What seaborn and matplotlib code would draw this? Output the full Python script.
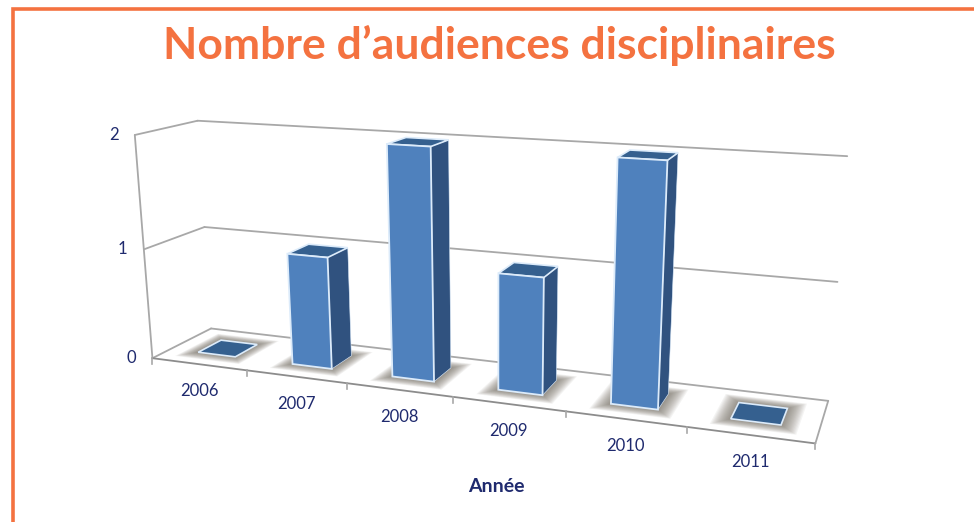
# -*- coding: utf-8 -*-
import numpy as np
import pandas as pd
import matplotlib
matplotlib.use('Agg')
import matplotlib.pyplot as plt
from matplotlib.transforms import Transform
import seaborn as sns

# data
years = ['2006', '2007', '2008', '2009', '2010', '2011']
audiences = [0, 1, 2, 1, 2, 0]
value_ticks = [0, 1, 2]
title = 'Nombre d’audiences disciplinaires'
xlabel = 'Année'

ORANGE = '#F47240'
NAVY = '#1F2A6E'
FRONT = '#4F81BD'
SIDE = '#30527F'
TOP = '#35608F'
GRID = '#A8A8A8'
BAR_WIDTH = 0.4
D0, D1 = 0.3, 0.7

# chart box corners in the picture: (category pos, depth, value) -> pixel, used to fit the camera
box_ref = [(-.5, 0, 0), (-.5, 1, 0), (-.5, 0, 1), (-.5, 1, 1), (-.5, 0, 2), (-.5, 1, 2),
           (5.5, 1, 2), (5.5, 1, 1), (5.5, 1, 0), (5.5, 0, 0),
           (.5, 0, 0), (1.5, 0, 0), (3.5, 0, 0), (4.5, 0, 0)]
box_px = [(152, 357), (212, 329), (144, 249), (203, 227), (135, 135), (198, 121),
          (847, 156), (838, 282), (828, 400), (815, 443),
          (247, 371), (347, 383), (566, 412), (687, 428)]


def fit_camera(ref, px):
    rows, rhs = [], []
    for (x, d, v), (u, w) in zip(ref, px):
        rows.append([x, d, v, 1, 0, 0, 0, 0, -u*x, -u*d, -u*v])
        rhs.append(u)
        rows.append([0, 0, 0, 0, x, d, v, 1, -w*x, -w*d, -w*v])
        rhs.append(w)
    sol = np.linalg.lstsq(np.array(rows, float), np.array(rhs, float), rcond=None)[0]
    return np.append(sol, 1).reshape(3, 4)


CAM = fit_camera(box_ref, box_px)


def project(x, d, v):
    x, d, v = np.broadcast_arrays(np.asarray(x, float), np.asarray(d, float), np.asarray(v, float))
    pts = np.stack([x, d, v, np.ones_like(x)], axis=-1) @ CAM.T
    return pts[..., :2] / pts[..., 2:]


class FrontFace(Transform):
    # takes the bar from seaborn's (category, value) space onto the plane at one depth
    input_dims = 2
    output_dims = 2

    def __init__(self, plane):
        super().__init__()
        self.plane = plane

    def transform_non_affine(self, values):
        values = np.asarray(values, float)
        return project(values[:, 0], self.plane, values[:, 1])


fig = plt.figure(figsize=(9.74, 5.22), dpi=100, facecolor='white')
back = fig.add_axes([0, 0, 1, 1], zorder=1)
back.set_xlim(0, 974)
back.set_ylim(522, 0)
back.axis('off')

df = pd.DataFrame({'year': years, 'audiences': audiences})
ax = fig.add_axes([0, 0, 1, 1], zorder=2)
sns.barplot(data=df, x='year', y='audiences', color=FRONT, saturation=1, width=BAR_WIDTH,
            edgecolor='#DCEBFA', linewidth=1.3, ax=ax)
ax.axis('off')


def line3d(a, b, **kw):
    p = project(*np.array([a, b]).T)
    back.plot(p[:, 0], p[:, 1], solid_capstyle='round', **kw)


# walls and floor
for v in value_ticks:
    line3d((-.5, 0, v), (-.5, 1, v), color=GRID, lw=1.3)
    line3d((-.5, 1, v), (5.5, 1, v), color=GRID, lw=1.3)
    p = project(-.5, 0, v)
    back.annotate(str(v), xy=p, xytext=(-21, 0), textcoords='offset pixels', ha='center',
                  va='center', color=NAVY, fontsize=12, family='Lato')
line3d((-.5, 0, 0), (-.5, 0, 2), color=GRID, lw=1.3)
line3d((-.5, 0, 0), (5.5, 0, 0), color='#8C8C8C', lw=1.3)
line3d((5.5, 0, 0), (5.5, 1, 0), color=GRID, lw=1.3)
for i in range(len(years) + 1):
    p = project(i - .5, 0, 0)
    back.plot([p[0], p[0]], [p[1], p[1] + 6], color=GRID, lw=1.2)
for i, year in enumerate(years):
    p = project(i, 0, 0)
    back.annotate(year, xy=p, xytext=(0, -27), textcoords='offset pixels', ha='center',
                  va='center', color=NAVY, fontsize=12, family='Lato')

# bars: seaborn's rectangles become the front faces, depth faces follow from them
for i, bar in enumerate(ax.patches):
    x0, x1, h = bar.get_x(), bar.get_x() + bar.get_width(), bar.get_height()
    # soft shadow on the floor
    for g in np.linspace(1, 0.1, 14):
        gx, gd = 0.14 * g, 0.17 * g
        base = project([x0 - gx, x1 + gx, x1 + gx, x0 - gx], [D0 - gd, D0 - gd, D1 + gd, D1 + gd], 0)
        back.fill(base[:, 0], base[:, 1], color='#6B6458', alpha=0.07, lw=0, zorder=3)
    top = project([x0, x1, x1, x0], [D0, D0, D1, D1], h)
    back.fill(top[:, 0], top[:, 1], facecolor=TOP, edgecolor='#DCEBFA', lw=1.2, zorder=5)
    if h > 0:
        side = project([x1, x1, x1, x1], [D0, D1, D1, D0], [0, 0, h, h])
        back.fill(side[:, 0], side[:, 1], facecolor=SIDE, edgecolor='#DCEBFA', lw=0.4, zorder=4)
        bar.set_transform(FrontFace(D0) + back.transData)
        bar.set_clip_on(False)
    else:
        bar.set_visible(False)

# frame around the slide
back.plot([13, 13, 974], [522, 9, 9], color=ORANGE, lw=2.6, solid_joinstyle='miter')
back.text(499, 45, title, ha='center', va='center', color=ORANGE, fontsize=32,
          fontweight='bold', family='Lato')
back.text(496, 486, xlabel, ha='center', va='center', color=NAVY, fontsize=14,
          fontweight='bold', family='Lato')

fig.savefig('out.png', dpi=100)
